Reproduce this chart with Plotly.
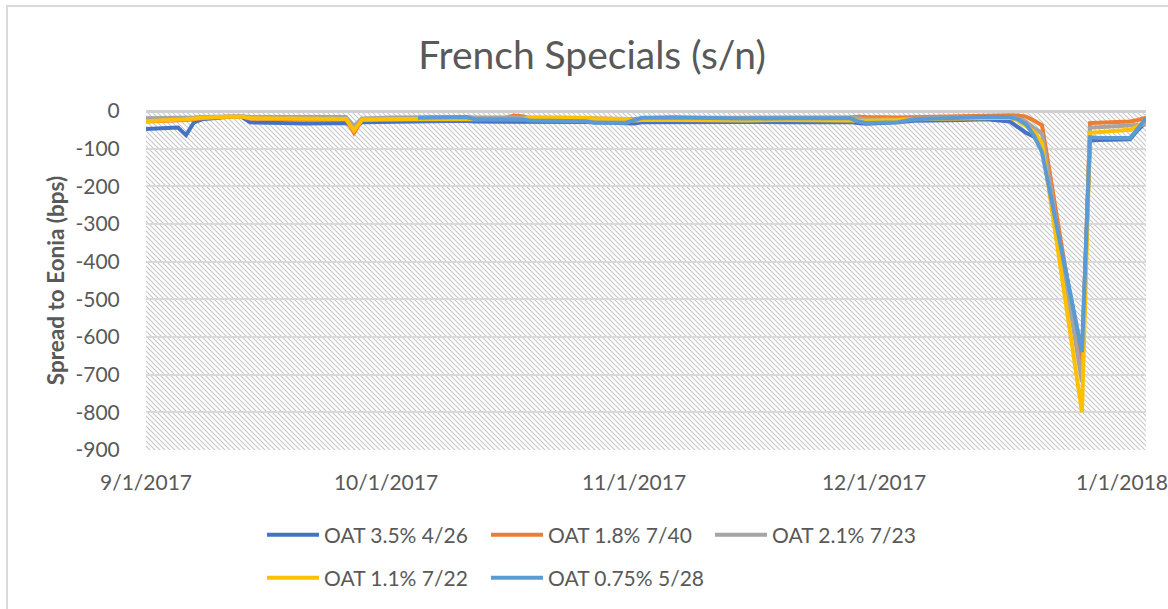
import base64
import plotly.graph_objects as go

# ---------------- data ----------------
dates = [
    "2017-09-01", "2017-09-04", "2017-09-05", "2017-09-06", "2017-09-07", "2017-09-08",
    "2017-09-11", "2017-09-13", "2017-09-14", "2017-09-18", "2017-09-21", "2017-09-26",
    "2017-09-27", "2017-09-28",
    "2017-10-02", "2017-10-05", "2017-10-09", "2017-10-11", "2017-10-12", "2017-10-16",
    "2017-10-17", "2017-10-18", "2017-10-19", "2017-10-23", "2017-10-26", "2017-10-27",
    "2017-10-31",
    "2017-11-01", "2017-11-02", "2017-11-06", "2017-11-10", "2017-11-15", "2017-11-20",
    "2017-11-24", "2017-11-28", "2017-11-29", "2017-11-30",
    "2017-12-04", "2017-12-06", "2017-12-12", "2017-12-15", "2017-12-18", "2017-12-19",
    "2017-12-20", "2017-12-21", "2017-12-22", "2017-12-27", "2017-12-28", "2017-12-29",
    "2018-01-02", "2018-01-03", "2018-01-04",
]

oat_35_426 = [
    -48, -45, -44, -64, -30, -22, -16, -16, -30, -32, -33, -32, -44, -30,
    -28, -28, -27, -26, -28, -28, -27, -28, -28, -29, -29, -30, -32,
    -33, -30, -29, -30, -29, -30, -30, -29, -32, -34,
    -30, -26, -24, -22, -28, -42, -58, -68, -100, -650, -78, -77,
    -75, -50, -30,
]
oat_18_740 = [
    -28, -27, -25, -24, -22, -19, -15, -15, -20, -22, -23, -22, -58, -24,
    -22, -21, -20, -20, -19, -18, -12, -14, -20, -20, -19, -20, -22,
    -23, -20, -18, -19, -19, -18, -18, -17, -15, -16,
    -17, -16, -13, -11, -11, -12, -15, -25, -38, -690, -32, -31,
    -28, -24, -18,
]
oat_21_723 = [
    -19, -19, -18, -18, -17, -16, -14, -14, -16, -16, -16, -16, -40, -20,
    -17, -16, -16, -16, -17, -17, -16, -17, -18, -18, -19, -20, -21,
    -22, -19, -17, -18, -17, -17, -17, -17, -19, -22,
    -22, -20, -17, -16, -16, -20, -28, -45, -60, -720, -44, -43,
    -40, -38, -36,
]
oat_11_722 = [
    -27, -25, -24, -22, -20, -18, -15, -15, -19, -20, -21, -21, -52, -23,
    -21, -21, -21, -21, -22, -22, -21, -22, -18, -17, -18, -20, -21,
    -25, -24, -24, -25, -25, -24, -25, -25, -25, -26,
    -24, -22, -20, -19, -18, -25, -40, -55, -85, -800, -58, -56,
    -50, -40, -25,
]
oat_075_528 = [
    None, None, None, None, None, None, None, None, None, None, None, None, None, None,
    None, -18, -15, -16, -21, -22, -21, -22, -25, -26, -27, -31, -31,
    -24, -18, -17, -19, -20, -19, -20, -19, -28, -32,
    -30, -22, -18, -15, -16, -22, -35, -65, -110, -640, -70, -71,
    -72, -46, -20,
]

series_names = ["OAT 3.5% 4/26", "OAT 1.8% 7/40", "OAT 2.1% 7/23", "OAT 1.1% 7/22", "OAT 0.75% 5/28"]
series_values = [oat_35_426, oat_18_740, oat_21_723, oat_11_722, oat_075_528]

x_tick_dates = ["2017-09-01", "2017-10-01", "2017-11-01", "2017-12-01", "2018-01-01"]
x_tick_labels = ["9/1/2017", "10/1/2017", "11/1/2017", "12/1/2017", "1/1/2018"]
y_ticks = [0, -100, -200, -300, -400, -500, -600, -700, -800, -900]
y_tick_labels = ["0", "-100", "-200", "-300", "-400", "-500", "-600", "-700", "-800", "-900"]

# ---------------- style ----------------
colors = ["#4472C4", "#ED7D31", "#A5A5A5", "#FFC000", "#5B9BD5"]
legend_ids = ["legend", "legend", "legend", "legend2", "legend2"]
FONT = "Lato"
TXT = "#595959"

W, H = 1168, 609
ML, MR, MT, MB = 146, 22, 111, 159
PW, PH = W - ML - MR, H - MT - MB

fig = go.Figure()
for name, vals, col, lg in zip(series_names, series_values, colors, legend_ids):
    fig.add_trace(go.Scatter(
        x=dates, y=vals, name=name, mode="lines",
        line=dict(color=col, width=4),
        connectgaps=False, legend=lg,
    ))

# hatched plot-area background (Excel pattern fill)
svg = (
    f'<svg xmlns="http://www.w3.org/2000/svg" width="{PW}" height="{PH}" '
    f'viewBox="0 0 {PW} {PH}" preserveAspectRatio="none">'
    '<defs><pattern id="p" width="5" height="5" patternUnits="userSpaceOnUse">'
    '<path d="M-1,-1 L6,6 M-1,4 L1,6 M4,-1 L6,1" stroke="#c8c8c8" stroke-width="1.2"/>'
    '</pattern></defs><rect width="100%" height="100%" fill="url(#p)"/></svg>'
)
svg_uri = "data:image/svg+xml;base64," + base64.b64encode(svg.encode()).decode()

legend_common = dict(
    orientation="h", x=(262 - ML) / PW, xanchor="left", yanchor="middle",
    entrywidth=157, entrywidthmode="pixels",
    font=dict(family=FONT, size=21, color=TXT),
    bgcolor="rgba(0,0,0,0)", itemwidth=52, tracegroupgap=0,
)

fig.update_layout(
    width=W, height=H,
    margin=dict(l=ML, r=MR, t=MT, b=MB, pad=0, autoexpand=False),
    paper_bgcolor="white",
    plot_bgcolor="rgba(0,0,0,0)",
    font=dict(family=FONT, color=TXT, size=21),
    title=dict(
        text="French Specials (s/n)",
        font=dict(family=FONT, size=39, color=TXT),
        x=592 / W, xref="container", xanchor="center",
        y=1 - 55 / H, yref="container", yanchor="middle",
    ),
    images=[dict(
        source=svg_uri, xref="paper", yref="paper", x=0, y=1,
        sizex=1, sizey=1, xanchor="left", yanchor="top",
        sizing="stretch", layer="below",
    )],
    xaxis=dict(
        type="date",
        range=["2017-09-01", "2018-01-04"],
        tickmode="array", tickvals=x_tick_dates, ticktext=x_tick_labels,
        showgrid=False, zeroline=False, showline=False,
        ticks="outside", ticklen=14, tickcolor="rgba(0,0,0,0)",
        tickfont=dict(family=FONT, size=21, color=TXT),
        ticklabeloverflow="allow", automargin=False,
        fixedrange=True,
    ),
    yaxis=dict(
        range=[-900, 0],
        tickmode="array", tickvals=y_ticks, ticktext=y_tick_labels,
        showgrid=True, gridcolor="#d9d9d9", gridwidth=1.5,
        zeroline=True, zerolinecolor="#d0d0d0", zerolinewidth=2.5,
        showline=False,
        ticks="outside", ticklen=21, tickcolor="rgba(0,0,0,0)",
        tickfont=dict(family=FONT, size=21, color=TXT),
        title=dict(text="<b>Spread to Eonia (bps)</b>",
                   font=dict(family=FONT, size=22.5, color=TXT), standoff=4),
        automargin=False,
        fixedrange=True,
    ),
    legend=dict(legend_common, y=(MT + PH - 535) / PH),
    legend2=dict(legend_common, y=(MT + PH - 578) / PH),
    showlegend=True,
    shapes=[dict(
        type="rect", xref="paper", yref="paper",
        x0=(7 - ML) / PW, x1=(W + 10 - ML) / PW,
        y0=(MT + PH - (H + 10)) / PH, y1=(MT + PH - 6) / PH,
        line=dict(color="#d9d9d9", width=2), fillcolor="rgba(0,0,0,0)",
        layer="below",
    )],
)

fig.write_html(
    "out.html",
    config={"displayModeBar": False},
    post_script="document.body.style.margin='0';document.body.style.overflow='hidden';",
)
